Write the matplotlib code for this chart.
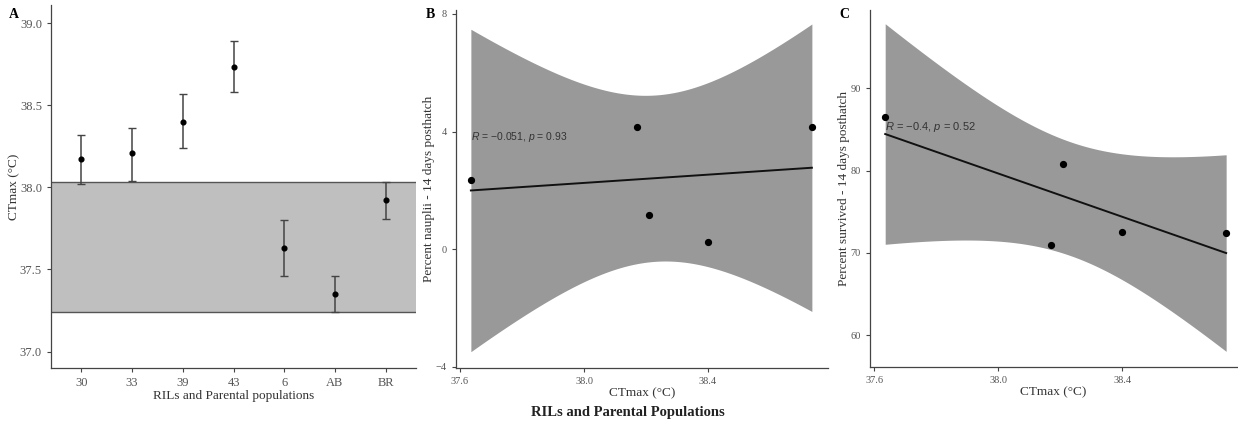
import numpy as np
import matplotlib
matplotlib.use("Agg")
import matplotlib.pyplot as plt

plt.rcParams["mathtext.fontset"] = "custom"
plt.rcParams["mathtext.it"] = "Liberation Sans:italic"
plt.rcParams["mathtext.rm"] = "Liberation Sans"

# ---- Data ----
categories = ["30", "33", "39", "43", "6", "AB", "BR"]
ctmax_mean = [38.17, 38.21, 38.40, 38.73, 37.63, 37.35, 37.92]
ctmax_lo = [38.02, 38.04, 38.24, 38.58, 37.46, 37.24, 37.81]
ctmax_hi = [38.32, 38.36, 38.57, 38.89, 37.80, 37.46, 38.03]
parent_band = [37.24, 38.03]

ril_ctmax = [38.17, 38.21, 38.40, 38.735, 37.635]
ril_nauplii = [4.14, 1.18, 0.25, 4.14, 2.37]
ril_survived = [70.94, 80.79, 72.48, 72.40, 86.47]

T_CRIT = 3.182446  # t(0.975, df=3)

SERIF = "Liberation Serif"
TICKC = "#555555"
SPINEC = "#444444"

W, H = 1238, 423
fig = plt.figure(figsize=(W / 100, H / 100), dpi=100)


def px_axes(l, t, r, b):
    return fig.add_axes([l / W, 1 - b / H, (r - l) / W, (b - t) / H])


def style(ax, size):
    for s in ["top", "right"]:
        ax.spines[s].set_visible(False)
    for s in ["left", "bottom"]:
        ax.spines[s].set_color(SPINEC)
        ax.spines[s].set_linewidth(0.9)
    ax.tick_params(colors=SPINEC, labelcolor=TICKC, length=3, width=0.8,
                   labelsize=size)
    for lab in ax.get_xticklabels() + ax.get_yticklabels():
        lab.set_fontfamily(SERIF)
    ax.set_facecolor("none")


def lm_panel(ax, x, y, xgrid):
    x = np.asarray(x, float)
    y = np.asarray(y, float)
    n = len(x)
    xm, ym = x.mean(), y.mean()
    sxx = ((x - xm) ** 2).sum()
    slope = ((x - xm) * (y - ym)).sum() / sxx
    icpt = ym - slope * xm
    res = y - (icpt + slope * x)
    s = np.sqrt((res ** 2).sum() / (n - 2))
    fit = icpt + slope * xgrid
    se = s * np.sqrt(1 / n + (xgrid - xm) ** 2 / sxx)
    ax.fill_between(xgrid, fit - T_CRIT * se, fit + T_CRIT * se,
                    color="#999999", lw=0, zorder=1)
    ax.plot(xgrid, fit, color="#111111", lw=1.4, zorder=2)
    ax.plot(x, y, "o", color="black", ms=4.2, zorder=3)


# ---- Panel A ----
axA = px_axes(51, 5, 416, 368)
pos = np.arange(1, len(categories) + 1)
axA.axhspan(parent_band[0], parent_band[1], color="#bfbfbf", lw=0, zorder=0)
for yv in parent_band:
    axA.axhline(yv, color="#555555", lw=1.0, zorder=1)
mean = np.array(ctmax_mean)
yerr = [mean - np.array(ctmax_lo), np.array(ctmax_hi) - mean]
axA.errorbar(pos, mean, yerr=yerr, fmt="o", color="black", ecolor="#444444",
             elinewidth=1.1, capsize=3, capthick=1.0, ms=3.4, zorder=3)
axA.set_xlim(0.4, 7.6)
axA.set_ylim(36.9, 39.11)
axA.set_xticks(pos)
axA.set_xticklabels(categories)
axA.set_yticks([37.0, 37.5, 38.0, 38.5, 39.0])
axA.set_yticklabels(["37.0", "37.5", "38.0", "38.5", "39.0"])
style(axA, 9)
axA.set_ylabel("CTmax (°C)", fontfamily=SERIF, fontsize=9.5, color="#333333")
axA.yaxis.set_label_coords((20 - 51) / 365, 0.5)
axA.set_xlabel("RILs and Parental populations", fontfamily=SERIF,
               fontsize=9.5, color="#333333", labelpad=1)

# ---- Panel B ----
axB = px_axes(456, 10, 828, 368)
xg = np.linspace(min(ril_ctmax), max(ril_ctmax), 200)
lm_panel(axB, ril_ctmax, ril_nauplii, xg)
axB.set_xlim(37.587, 38.787)
axB.set_ylim(-4.04, 8.135)
axB.set_xticks([37.6, 38.0, 38.4])
axB.set_xticklabels(["37.6", "38.0", "38.4"])
axB.set_yticks([-4, 0, 4, 8])
style(axB, 7.5)
axB.set_ylabel("Percent nauplii - 14 days posthatch", fontfamily=SERIF,
               fontsize=9.5, color="#333333")
axB.yaxis.set_label_coords((435 - 456) / 372, 0.5)
axB.set_xlabel("CTmax (°C)", fontfamily=SERIF, fontsize=9.5,
               color="#333333", labelpad=1)
axB.text(37.635, 3.82, r"$R$ = −0.051, $p$ = 0.93", fontfamily="Liberation Sans",
         fontsize=7.5, color="#333333", va="center", ha="left", zorder=4)

# ---- Panel C ----
axC = px_axes(870, 10, 1237, 367)
lm_panel(axC, ril_ctmax, ril_survived, xg)
axC.set_xlim(37.586, 38.77)
axC.set_ylim(56.14, 99.5)
axC.set_xticks([37.6, 38.0, 38.4])
axC.set_xticklabels(["37.6", "38.0", "38.4"])
axC.set_yticks([60, 70, 80, 90])
style(axC, 7.5)
axC.set_ylabel("Percent survived - 14 days posthatch", fontfamily=SERIF,
               fontsize=9.5, color="#333333")
axC.yaxis.set_label_coords((850 - 870) / 367, 0.5)
axC.set_xlabel("CTmax (°C)", fontfamily=SERIF, fontsize=9.5,
               color="#333333", labelpad=1)
axC.text(37.636, 85.33, r"$R$ = −0.4, $p$ = 0.52", fontfamily="Liberation Sans",
         fontsize=8, color="#333333", va="center", ha="left", zorder=4)

# ---- panel letters and overall label ----
fig.text(14 / W, 1 - 14 / H, "A", fontfamily=SERIF, fontweight="bold",
         fontsize=10, ha="center", va="center")
fig.text(430 / W, 1 - 14 / H, "B", fontfamily=SERIF, fontweight="bold",
         fontsize=10, ha="center", va="center")
fig.text(844 / W, 1 - 14 / H, "C", fontfamily=SERIF, fontweight="bold",
         fontsize=10, ha="center", va="center")
fig.text(628 / W, 1 - 412 / H, "RILs and Parental Populations",
         fontfamily=SERIF, fontweight="bold", fontsize=10.5, ha="center",
         va="center", color="#222222")

fig.savefig("out.png", dpi=100, facecolor="white")
